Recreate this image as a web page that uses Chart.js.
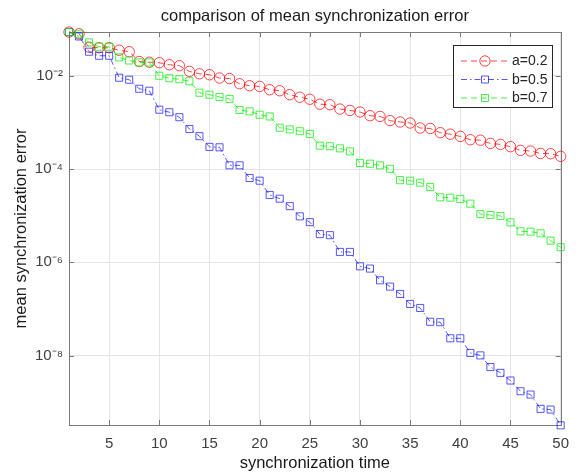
<!DOCTYPE html>
<html>
<head>
<meta charset="utf-8">
<script src="https://cdn.jsdelivr.net/npm/chart.js@4/dist/chart.umd.min.js"></script>
<style>
html,body{margin:0;padding:0;background:#fff;}
#wrap{width:579px;height:473px;position:relative;}
</style>
</head>
<body>
<div id="wrap"><canvas id="c" width="579" height="473"></canvas></div>
<script>
// ---- data ----
const times = [1,2,3,4,5,6,7,8,9,10,11,12,13,14,15,16,17,18,19,20,21,22,23,24,25,26,27,28,29,30,31,32,33,34,35,36,37,38,39,40,41,42,43,44,45,46,47,48,49,50];
const errA02 = [0.0863,0.0794,0.0408,0.0398,0.0398,0.0352,0.0327,0.0202,0.0195,0.0190,0.0172,0.0164,0.0124,0.0110,0.0105,0.00893,0.00870,0.00674,0.00610,0.00590,0.00501,0.00477,0.00392,0.00346,0.00313,0.00245,0.00239,0.00193,0.00180,0.00167,0.00139,0.00134,0.00109,0.00102,0.00097,0.000757,0.000740,0.000601,0.000558,0.000500,0.000425,0.000415,0.000354,0.000337,0.000301,0.000251,0.000243,0.000216,0.000213,0.000187];
const errB05 = [0.0863,0.0695,0.0327,0.0268,0.0268,0.00906,0.00821,0.00526,0.00477,0.00187,0.00165,0.00129,0.000721,0.000506,0.000298,0.000292,0.000120,0.000120,6.43e-5,5.62e-5,2.78e-5,2.31e-5,1.60e-5,9.66e-6,7.26e-6,4.02e-6,3.82e-6,1.67e-6,1.67e-6,8.20e-7,7.33e-7,4.11e-7,3.01e-7,2.10e-7,1.28e-7,1.05e-7,5.31e-8,5.20e-8,2.35e-8,2.35e-8,1.14e-8,1.01e-8,5.68e-9,4.26e-9,2.92e-9,1.72e-9,1.46e-9,7.21e-10,6.97e-10,3.20e-10];
const errB07 = [0.0863,0.0774,0.0518,0.0418,0.0418,0.0247,0.0212,0.0193,0.0193,0.0100,0.00884,0.00841,0.00762,0.00432,0.00392,0.00350,0.00318,0.00184,0.00172,0.00146,0.00134,0.000769,0.000707,0.000647,0.000566,0.000316,0.000308,0.000277,0.000239,0.000135,0.000130,0.000120,0.000101,5.77e-5,5.62e-5,5.10e-5,4.12e-5,2.47e-5,2.43e-5,2.28e-5,1.81e-5,1.08e-5,1.03e-5,9.86e-6,7.19e-6,4.61e-6,4.54e-6,4.18e-6,2.91e-6,2.11e-6];
const seriesNames = ['a=0.2','b=0.5','b=0.7'];
const xTickValues = [5,10,15,20,25,30,35,40,45,50];
const yTickValues = [1e-8,1e-6,1e-4,1e-2];
const yTickLabels = ['10\u207B\u2078','10\u207B\u2076','10\u207B\u2074','10\u207B\u00B2'];
const chartTitle = 'comparison of mean synchronization error';
const xTitle = 'synchronization time';
const yTitle = 'mean synchronization error';

// ---- styles ----
const FONT = '"Liberation Sans", Arial, Helvetica, sans-serif';
const RED = 'rgba(255,0,0,0.72)';
const BLUE = 'rgba(0,0,255,0.66)';
const GREEN = 'rgba(0,235,0,0.72)';
const AXIS = '#7a7a7a';
const TEXT = '#404040';

function pts(arr){ return times.map((t,i)=>({x:t,y:arr[i]})); }

const datasets = [
  {label:seriesNames[0], data:pts(errA02), borderColor:RED, pointBorderColor:RED, borderDash:[6,4], pointStyle:'circle', pointRadius:5.2, order:2},
  {label:seriesNames[1], data:pts(errB05), borderColor:BLUE, pointBorderColor:BLUE, borderDash:[6,3,1.5,3], pointStyle:'rect', pointRadius:5, order:1},
  {label:seriesNames[2], data:pts(errB07), borderColor:GREEN, pointBorderColor:GREEN, borderDash:[6,4], pointStyle:'rect', pointRadius:5, order:0}
].map(d=>Object.assign({borderWidth:1, pointBorderWidth:1, pointBackgroundColor:'rgba(0,0,0,0)', pointHoverRadius:5, fill:false, tension:0, clip:false}, d));

const boxPlugin = {
  id:'box',
  beforeDatasetsDraw(chart){
    const {ctx, chartArea:a, scales:{x,y}} = chart;
    ctx.save();
    ctx.strokeStyle = AXIS; ctx.lineWidth = 1;
    ctx.beginPath();
    xTickValues.forEach(v=>{
      const px = Math.round(x.getPixelForValue(v))+0.5;
      ctx.moveTo(px, a.bottom); ctx.lineTo(px, a.bottom-5);
      ctx.moveTo(px, a.top); ctx.lineTo(px, a.top+5);
    });
    yTickValues.forEach(v=>{
      const py = Math.round(y.getPixelForValue(v))+0.5;
      ctx.moveTo(a.left, py); ctx.lineTo(a.left+5, py);
      ctx.moveTo(a.right, py); ctx.lineTo(a.right-5, py);
    });
    ctx.stroke();
    ctx.strokeRect(Math.round(a.left)+0.5, Math.round(a.top)+0.5, Math.round(a.right-a.left), Math.round(a.bottom-a.top));
    ctx.restore();
  },
  afterDraw(chart){
    const {ctx} = chart;
    const lx = 453, ly = 45, lw = 99, lh = 62;
    ctx.save();
    ctx.fillStyle = '#fff';
    ctx.fillRect(lx, ly, lw, lh);
    ctx.strokeStyle = '#262626'; ctx.lineWidth = 1;
    ctx.strokeRect(lx+0.5, ly+0.5, lw, lh);
    const rows = [61, 79.5, 98];
    chart.data.datasets.forEach((d,i)=>{
      const yy = rows[i];
      ctx.strokeStyle = d.borderColor; ctx.lineWidth = 1;
      ctx.setLineDash(d.borderDash);
      ctx.beginPath(); ctx.moveTo(461, yy); ctx.lineTo(509, yy); ctx.stroke();
      ctx.setLineDash([]);
      ctx.beginPath();
      if (d.pointStyle === 'circle') { ctx.arc(485, yy, 5.2, 0, Math.PI*2); }
      else { ctx.rect(485-3.5, yy-3.5, 7, 7); }
      ctx.stroke();
      ctx.fillStyle = '#262626';
      ctx.font = '14px ' + FONT;
      ctx.textBaseline = 'middle'; ctx.textAlign = 'left';
      ctx.fillText(d.label, 512, yy+0.5);
    });
    ctx.restore();
  }
};

new Chart(document.getElementById('c'), {
  type:'line',
  data:{datasets},
  plugins:[boxPlugin],
  options:{
    responsive:false,
    animation:false,
    events:[],
    layout:{padding:{left:0,right:12,top:0,bottom:0}},
    plugins:{
      legend:{display:false},
      tooltip:{enabled:false},
      title:{display:true, fullSize:false, text:chartTitle, color:'#1a1a1a', font:{family:FONT, size:16.5, weight:'normal'}, padding:{top:7,bottom:5.2}}
    },
    scales:{
      x:{
        type:'linear', min:1, max:50, bounds:'data',
        afterBuildTicks(s){ s.ticks = xTickValues.map(v=>({value:v})); },
        afterFit(s){ s.height = 48; },
        grid:{color:'#e4e4e4', lineWidth:1, drawTicks:false},
        border:{display:false},
        ticks:{color:TEXT, font:{family:FONT, size:15}, padding:10, maxRotation:0, autoSkip:false, callback:v=>String(v)},
        title:{display:true, text:xTitle, color:'#1a1a1a', font:{family:FONT, size:16.5}, padding:{top:0,bottom:0}}
      },
      y:{
        type:'logarithmic', min:3.25e-10, max:0.0866, bounds:'data',
        afterBuildTicks(s){ s.ticks = yTickValues.map(v=>({value:v})); },
        afterFit(s){ s.width = 69; },
        grid:{color:'#e4e4e4', lineWidth:1, drawTicks:false},
        border:{display:false},
        ticks:{color:TEXT, font:{family:FONT, size:15}, padding:6, autoSkip:false,
          callback:(v)=>{ const k = yTickValues.findIndex(t=>Math.abs(Math.log10(t)-Math.log10(v))<1e-6); return k>=0 ? yTickLabels[k] : ''; }},
        title:{display:true, text:yTitle, color:'#1a1a1a', font:{family:FONT, size:16.5}, padding:{top:12,bottom:0}}
      }
    }
  }
});
</script>
</body>
</html>
